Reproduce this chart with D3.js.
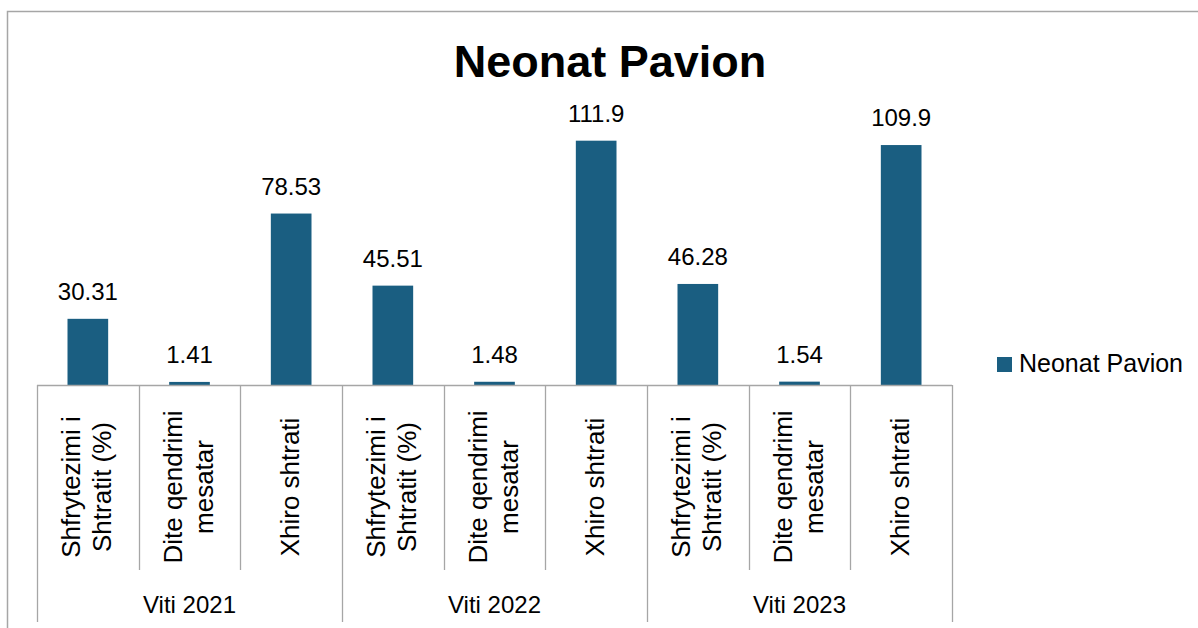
<!DOCTYPE html>
<html lang="sq">
<head>
<meta charset="utf-8" />
<title>Neonat Pavion</title>
<script src="https://cdn.jsdelivr.net/npm/d3@7"></script>
<style>
  html, body { margin: 0; padding: 0; background: #fff; }
  svg { display: block; font-family: "Liberation Sans", Arial, sans-serif; }
</style>
</head>
<body>
<svg width="1198" height="628"></svg>
<script>
// chart data
var groups = ['Viti 2021', 'Viti 2022', 'Viti 2023'];
var categories = [['Shfrytezimi i', 'Shtratit (%)'], ['Dite qendrimi', 'mesatar'], ['Xhiro shtrati']];
var values2021 = [30.31, 1.41, 78.53];
var values2022 = [45.51, 1.48, 111.9];
var values2023 = [46.28, 1.54, 109.9];
var seriesName = 'Neonat Pavion';
var yMax = 120;

var svg = d3.select('svg');
var barColor = '#1a5e81';
var lineColor = '#a6a6a6';

// flatten to one row per bar
var allValues = [values2021, values2022, values2023];
var rows = [];
groups.forEach(function(g, gi) {
    categories.forEach(function(c, ci) {
        rows.push({ group: g, gi: gi, cat: c, value: allValues[gi][ci] });
    });
});

// plot box (note: "top" is taken by window.top, so plotTop)
var plotLeft = 37, plotRight = 952, plotBase = 385, plotTop = 123;

var x = d3.scaleBand()
    .domain(d3.range(rows.length))
    .range([plotLeft, plotRight])
    .paddingInner(0.6)
    .paddingOuter(0.3);

var y = d3.scaleLinear().domain([0, yMax]).range([plotBase, plotTop]);

// outer frame (runs off the picture right and bottom)
svg.append('rect')
    .attr('x', 7.5).attr('y', 11.5)
    .attr('width', 1400).attr('height', 800)
    .attr('fill', 'none')
    .attr('stroke', lineColor)
    .attr('stroke-width', 1.5);

// title
svg.append('text')
    .attr('x', 610).attr('y', 77)
    .attr('text-anchor', 'middle')
    .attr('font-size', 45)
    .attr('font-weight', 'bold')
    .attr('fill', '#000')
    .text(seriesName);

// bars
svg.append('g').selectAll('rect')
    .data(rows)
    .enter()
    .append('rect')
    .attr('x', function(d, i) { return x(i); })
    .attr('y', function(d) { return y(d.value); })
    .attr('width', x.bandwidth())
    .attr('height', function(d) { return plotBase - y(d.value); })
    .attr('fill', barColor);

// data labels
svg.append('g').selectAll('text')
    .data(rows)
    .enter()
    .append('text')
    .attr('x', function(d, i) { return x(i) + x.bandwidth() / 2; })
    .attr('y', function(d) { return y(d.value) - 19; })
    .attr('text-anchor', 'middle')
    .attr('font-size', 24)
    .attr('fill', '#000')
    .text(function(d) { return d.value; });

// category axis: baseline, separators
var step = x.step();
var axis = svg.append('g')
    .attr('stroke', lineColor)
    .attr('stroke-width', 1.3)
    .attr('fill', 'none');

axis.append('line')
    .attr('x1', plotLeft).attr('x2', plotRight)
    .attr('y1', plotBase + 0.5).attr('y2', plotBase + 0.5);

d3.range(rows.length + 1).forEach(function(i) {
    var xx = Math.round(plotLeft + i * step) + 0.5;
    var isGroupEdge = i % categories.length === 0;
    axis.append('line')
        .attr('x1', xx).attr('x2', xx)
        .attr('y1', plotBase).attr('y2', isGroupEdge ? 622 : 570);
});

// category labels (rotated)
var lineGap = 31;
var catLabels = svg.append('g');
rows.forEach(function(d, i) {
    var cx = x(i) + x.bandwidth() / 2;
    var n = d.cat.length;
    d.cat.forEach(function(line, li) {
        var bx = cx + (li - (n - 1) / 2) * lineGap + 8;
        catLabels.append('text')
            .attr('transform', 'translate(' + bx + ',487) rotate(-90)')
            .attr('text-anchor', 'middle')
            .attr('font-size', 26)
            .attr('fill', '#000')
            .text(line);
    });
});

// group labels
svg.append('g').selectAll('text')
    .data(groups)
    .enter()
    .append('text')
    .attr('x', function(d, gi) { return plotLeft + (gi + 0.5) * step * categories.length; })
    .attr('y', 613)
    .attr('text-anchor', 'middle')
    .attr('font-size', 24)
    .attr('fill', '#000')
    .text(function(d) { return d; });

// legend
var legend = svg.append('g').attr('transform', 'translate(997,357)');
legend.append('rect')
    .attr('width', 15).attr('height', 15)
    .attr('fill', barColor);
legend.append('text')
    .attr('x', 22).attr('y', 15)
    .attr('font-size', 25)
    .attr('fill', '#000')
    .text(seriesName);
</script>
</body>
</html>
